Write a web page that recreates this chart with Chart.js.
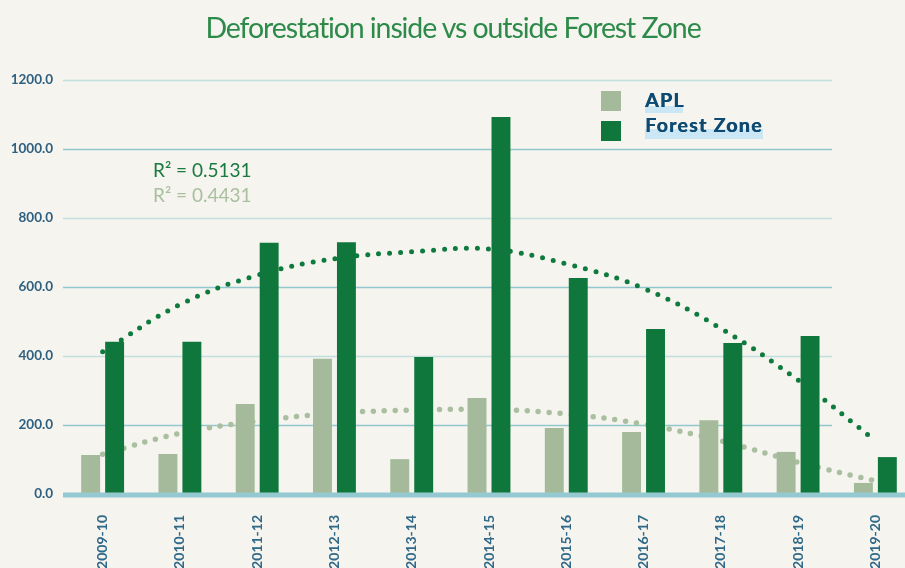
<!DOCTYPE html>
<html>
<head>
<meta charset="utf-8">
<script src="https://cdn.jsdelivr.net/npm/chart.js@4"></script>
<style>
  body { margin: 0; width: 905px; height: 568px; overflow: hidden; background: #f5f4ee; position: relative; font-family: Lato, sans-serif; }
  #wrap { position: absolute; left: 0; top: 0; width: 914px; height: 574px; }
  .txt { position: absolute; white-space: nowrap; }
  #title { left: 0; width: 906px; text-align: center; top: 13px; font-size: 28.5px; line-height: 28px; letter-spacing: -1.1px; color: #2d8a4a; }
  .r2 { left: 153px; font-size: 19px; line-height: 19px; }
  .sw { position: absolute; width: 20px; height: 20px; left: 601px; }
  .leg { left: 645px; font-size: 19.5px; line-height: 19px; font-weight: bold; letter-spacing: 1.3px; color: #0e4a72; text-shadow: 0.6px 0 0 #0e4a72; }
  .hl { position: absolute; left: 645px; background: #cbe7f5; }
</style>
</head>
<body>
<div id="wrap"><canvas id="chart"></canvas></div>
<div id="title" class="txt">Deforestation inside vs outside Forest Zone</div>
<div class="txt r2" style="top:160px;color:#1a7a40">R² = 0.5131</div>
<div class="txt r2" style="top:185px;color:#a9bfa0">R² = 0.4431</div>
<div class="sw" style="top:91px;background:#a4ba9a"></div>
<div class="sw" style="top:121px;background:#10773c"></div>
<div class="hl" style="top:106px;width:38px;height:7px"></div>
<div class="hl" style="top:129px;width:118px;height:10px"></div>
<div class="txt leg" style="top:90px">APL</div>
<div class="txt leg" style="top:115px">Forest Zone</div>
<script>
const years = ['2009-10', '2010-11', '2011-12', '2012-13', '2013-14', '2014-15', '2015-16', '2016-17', '2017-18', '2018-19', '2019-20'];
const aplValues = [113, 116, 261, 392, 101, 278, 191, 180, 214, 122, 32];
const forestValues = [441, 441, 728, 730, 397, 1093, 626, 478, 438, 458, 107];
// dotted trend curves at each season
const forestTrend = [412, 549, 634, 682, 702, 710, 667, 596, 480, 330, 155];
const aplTrend = [115, 176, 211, 234, 243, 245, 232, 202, 154, 92, 38];
const yTicks = [0, 200, 400, 600, 800, 1000, 1200];

const gridRight = 832;

const gridPlugin = {
  id: 'customGrid',
  beforeDatasetsDraw(chart) {
    const { ctx, chartArea, scales } = chart;
    ctx.save();
    yTicks.forEach((v, i) => {
      if (v === 0) return;
      const py = Math.round(scales.y.getPixelForValue(v)) + 0.5;
      ctx.strokeStyle = i % 2 ? '#92c7ce' : '#c2dfe0';
      ctx.lineWidth = 1.5;
      ctx.beginPath();
      ctx.moveTo(chartArea.left - 1, py);
      ctx.lineTo(gridRight, py);
      ctx.stroke();
    });
    ctx.restore();
  },
  afterDatasetsDraw(chart) {
    const { ctx, chartArea, scales } = chart;
    const py = scales.y.getPixelForValue(0) + 1;
    ctx.save();
    ctx.strokeStyle = '#95c9d1';
    ctx.lineWidth = 5;
    ctx.beginPath();
    ctx.moveTo(chartArea.left - 1, py);
    ctx.lineTo(chart.width, py);
    ctx.stroke();
    ctx.restore();
  }
};

new Chart(document.getElementById('chart'), {
  type: 'bar',
  data: {
    labels: years,
    datasets: [
      {
        label: 'APL',
        data: aplValues,
        backgroundColor: '#a4ba9a',
        categoryPercentage: 0.62,
        barPercentage: 0.79,
        order: 1
      },
      {
        label: 'Forest Zone',
        data: forestValues,
        backgroundColor: '#10773c',
        categoryPercentage: 0.62,
        barPercentage: 0.79,
        order: 1
      },
      {
        type: 'line',
        label: 'Forest Zone trend',
        data: forestTrend,
        borderColor: '#0e7a3e',
        borderWidth: 5,
        borderDash: [0, 11],
        borderCapStyle: 'round',
        tension: 0.4,
        pointRadius: 0,
        fill: false,
        order: 2
      },
      {
        type: 'line',
        label: 'APL trend',
        data: aplTrend,
        borderColor: '#a9bfa0',
        borderWidth: 5.5,
        borderDash: [0, 11],
        borderCapStyle: 'round',
        tension: 0.4,
        pointRadius: 0,
        fill: false,
        order: 3
      }
    ]
  },
  options: {
    responsive: true,
    maintainAspectRatio: false,
    animation: false,
    layout: { padding: { top: 80, left: 0, right: 0, bottom: 0 } },
    plugins: {
      legend: { display: false },
      tooltip: { enabled: false }
    },
    scales: {
      x: {
        grid: { display: false },
        border: { display: false },
        ticks: {
          minRotation: 90,
          maxRotation: 90,
          padding: 13,
          color: '#2f6888',
          font: { family: 'Lato', size: 14, weight: 'bold' }
        },
        afterFit(scale) { scale.height = 80; }
      },
      y: {
        min: 0,
        max: 1200,
        grid: { display: false, drawTicks: false },
        border: { display: false },
        ticks: {
          stepSize: 200,
          padding: 11,
          color: '#2f6080',
          font: { family: 'Lato', size: 13.5, weight: 'bold' },
          callback: v => v.toFixed(1)
        },
        afterFit(scale) { scale.width = 64; }
      }
    }
  },
  plugins: [gridPlugin]
});
</script>
</body>
</html>
